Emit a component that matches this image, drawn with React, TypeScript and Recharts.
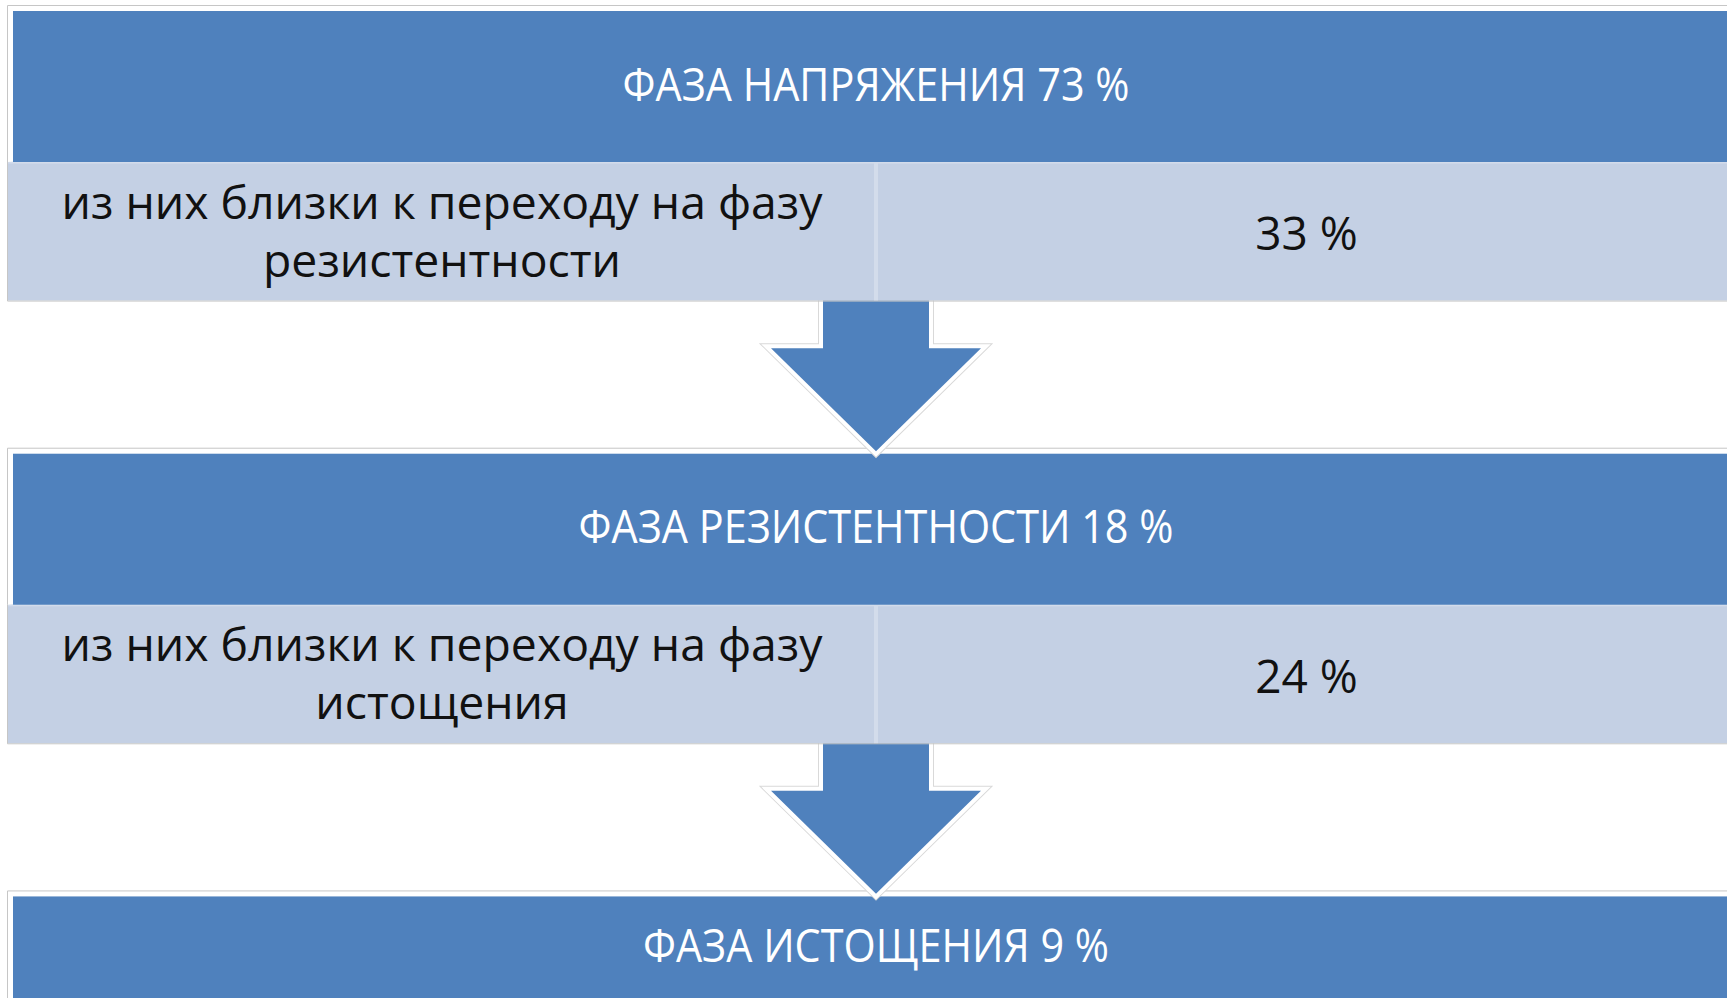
import React from "react";
import { BarChart, Bar, XAxis, YAxis } from "recharts";

// ---- data ----
const phaseNames = ["ФАЗА НАПРЯЖЕНИЯ", "ФАЗА РЕЗИСТЕНТНОСТИ", "ФАЗА ИСТОЩЕНИЯ"];
const phaseShares = [73, 18, 9];
const nearTransitionTexts = [
  "из них близки к переходу на фазу резистентности",
  "из них близки к переходу на фазу истощения",
];
const nearTransitionShares = [33, 24];
const FULL_SPAN = 100; // every box spans the whole 0..100 % axis

// ---- styles ----
const DARK = "#4F81BD";
const LIGHT = "#C4D0E4";
const LIGHT_LINE = "#D3DCEB";
const EDGE = "#C6C6C6";
const FONT = "'Open Sans', 'Noto Sans', sans-serif";
const HEADER_SCALE = 0.92;
const SUB_SCALE = 1.03;

type Row = {
  key: string;
  kind: "phase" | "transition" | "arrow";
  label?: string;
  share?: number;
  last?: boolean;
  span: number;
};

const rows: Row[] = [];
phaseNames.forEach((name, i) => {
  rows.push({
    key: `phase${i}`,
    kind: "phase",
    label: name,
    share: phaseShares[i],
    last: i === phaseNames.length - 1,
    span: FULL_SPAN,
  });
  if (i < nearTransitionTexts.length) {
    rows.push({
      key: `near${i}`,
      kind: "transition",
      label: nearTransitionTexts[i],
      share: nearTransitionShares[i],
      span: FULL_SPAN,
    });
    rows.push({ key: `arrow${i}`, kind: "arrow", span: FULL_SPAN });
  }
});
// drawn bottom-up so that each arrow lies over the box it points to
const drawRows = [...rows].reverse();

function RowShape(props: any) {
  const { x, y, width, height, index } = props;
  const row: Row = props.payload && props.payload.kind ? props.payload : drawRows[index];
  const cx = x + width / 2;
  const xEnd = x + width + 40;

  if (row.kind === "phase") {
    const darkTop = y + 2;
    const darkH = row.last ? 104 : height + 3;
    const darkBottom = darkTop + darkH;
    const midY = darkTop + darkH / 2;
    return (
      <g>
        <path
          d={`M ${x - 3.5} ${darkBottom} L ${x - 3.5} ${darkTop - 5.5} L ${xEnd} ${darkTop - 5.5}`}
          fill="#FFFFFF"
          stroke={EDGE}
          strokeWidth={1}
        />
        <rect x={x + 2} y={darkTop} width={xEnd - x} height={darkH} fill={DARK} />
        <text
          transform={`translate(${cx}, ${midY + 14}) scale(${HEADER_SCALE}, 1)`}
          x={0}
          y={0}
          textAnchor="middle"
          fill="#FFFFFF"
          fontFamily={FONT}
          fontSize={45}
        >
          {`${row.label} ${row.share} %`}
        </text>
      </g>
    );
  }

  if (row.kind === "transition") {
    const top = y + 5;
    const bottom = y + height - 4;
    const c = (top + bottom) / 2;
    const words = (row.label || "").split(" ");
    const line1 = words.slice(0, -1).join(" ");
    const line2 = words[words.length - 1];
    const leftC = (x - 3 + cx) / 2;
    const rightC = (cx + x + width) / 2;
    return (
      <g>
        <rect x={x - 3} y={top} width={xEnd - x} height={bottom - top} fill={LIGHT} />
        <line x1={x - 3} y1={top + 1} x2={xEnd} y2={top + 1} stroke={LIGHT_LINE} strokeWidth={2} />
        <line x1={cx} y1={top} x2={cx} y2={bottom} stroke={LIGHT_LINE} strokeWidth={4} />
        <path
          d={`M ${x - 3.5} ${top} L ${x - 3.5} ${bottom + 0.5} L ${xEnd} ${bottom + 0.5}`}
          fill="none"
          stroke={EDGE}
          strokeWidth={1}
        />
        <text
          transform={`translate(${leftC}, ${c - 12.5}) scale(${SUB_SCALE}, 1)`}
          textAnchor="middle"
          fill="#111111"
          fontFamily={FONT}
          fontSize={45}
        >
          {line1}
        </text>
        <text
          transform={`translate(${leftC}, ${c + 45.5}) scale(${SUB_SCALE}, 1)`}
          textAnchor="middle"
          fill="#111111"
          fontFamily={FONT}
          fontSize={45}
        >
          {line2}
        </text>
        <text
          x={rightC - 2}
          y={c + 19}
          textAnchor="middle"
          fill="#111111"
          fontFamily={FONT}
          fontSize={46}
        >
          {`${row.share} %`}
        </text>
      </g>
    );
  }

  // arrow
  const stemTop = y - 4;
  const headY = y + 44;
  const tip = y + height - 1;
  const sw = 53;
  const hw = 105;
  const d = `M ${cx - sw} ${stemTop} L ${cx - sw} ${headY} L ${cx - hw} ${headY} L ${cx} ${tip} L ${cx + hw} ${headY} L ${cx + sw} ${headY} L ${cx + sw} ${stemTop}`;
  return (
    <g>
      <path d={d} fill="none" stroke="#D9D9D9" strokeWidth={10} strokeLinejoin="miter" />
      <path d={d} fill="none" stroke="#FFFFFF" strokeWidth={8} strokeLinejoin="miter" />
      <path d={`${d} Z`} fill={DARK} stroke="none" />
    </g>
  );
}

export default function App() {
  return (
    <div
      style={{
        position: "absolute",
        left: 0,
        top: 0,
        width: 1727,
        height: 998,
        overflow: "hidden",
        background: "#FFFFFF",
      }}
    >
      <BarChart
        width={1760}
        height={1042}
        data={drawRows}
        layout="vertical"
        margin={{ top: 9, right: 19, bottom: 0, left: 11 }}
        barCategoryGap={0}
        barGap={0}
      >
        <XAxis type="number" domain={[0, FULL_SPAN]} hide />
        <YAxis type="category" dataKey="key" reversed hide />
        <Bar dataKey="span" isAnimationActive={false} shape={RowShape} />
      </BarChart>
    </div>
  );
}
